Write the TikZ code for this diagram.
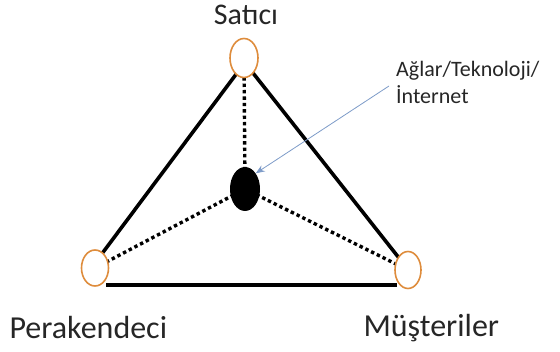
\documentclass[tikz,border=0pt]{standalone}
\usepackage{fontspec}
\setmainfont{Carlito}
\usetikzlibrary{arrows.meta,shapes.geometric}
\definecolor{arrowblue}{RGB}{125,155,200}
\definecolor{ringorange}{RGB}{222,140,60}
\begin{document}
\begin{tikzpicture}[x=1pt,y=-1pt,
  vertex/.style={draw=ringorange, line width=1.6pt, fill=white, ellipse, inner sep=0pt},
  solidedge/.style={line width=3.6pt, black},
  dotedge/.style={line width=3.4pt, black, dash pattern=on 3.4pt off 3pt},
  lbl/.style={font=\fontsize{32}{36}\selectfont, text=black!85},
  small/.style={font=\fontsize{22}{27}\selectfont, text=black!85, align=left}]
\useasboundingbox (0,0) rectangle (560,352);
\coordinate (T) at (244,58);
\coordinate (L) at (95,268);
\coordinate (R) at (408,270);
\coordinate (C) at (245,189);
% solid edges
\draw[solidedge] (237,73) coordinate (ta) -- (101,255) coordinate (lb);
\draw[solidedge] (253,73) coordinate (tb) -- (399,258) coordinate (ra);
\draw[solidedge] (106,285) coordinate (lc) -- (397,285) coordinate (rc);
% dotted edges
\draw[dotedge] (T) -- (C);
\draw[dotedge] (C) -- (L);
\draw[dotedge] (C) -- (R);
% vertices
\node[vertex, minimum width=28pt, minimum height=39pt] (sat) at (T) {};
\node[vertex, minimum width=27pt, minimum height=36pt] (per) at (L) {};
\node[vertex, minimum width=26pt, minimum height=37pt] (mus) at (R) {};
\node[ellipse, fill=black, minimum width=30pt, minimum height=44pt, inner sep=0pt] (net) at (C) {};
% labels
\node[lbl, font=\fontsize{30}{34}\selectfont] (tsat) at (246,15) {Satıcı};
\node[lbl, anchor=west] (tper) at (6,328) {Perakendeci};
\node[lbl, anchor=west] (tmus) at (360,328) {Müşteriler};
\node[small, anchor=north west, inner sep=0pt] (tnet) at (396,61) {Ağlar/Teknoloji/\\İnternet};
\draw[-{Stealth[length=9pt,width=7pt]}, line width=0.8pt, draw=arrowblue] (389,86) -- (net.north east);
\end{tikzpicture}
\end{document}
